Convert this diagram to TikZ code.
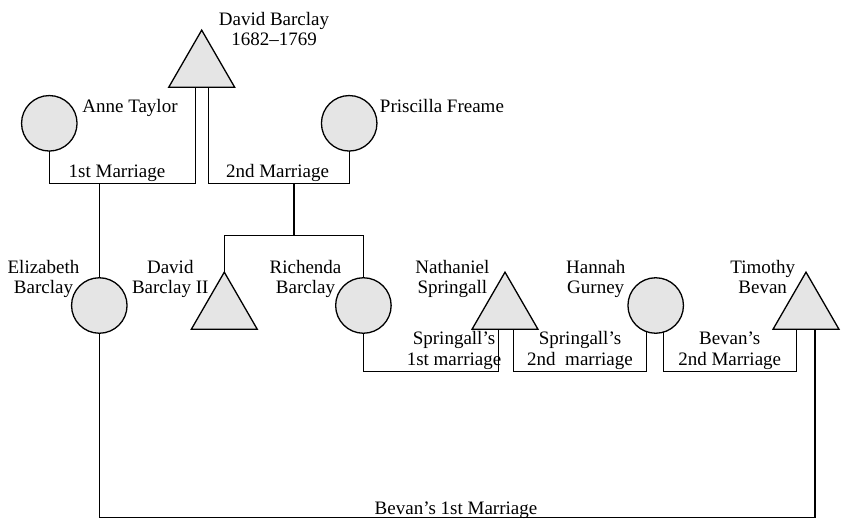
\documentclass[tikz,border=0pt]{standalone}
\usepackage{fontspec}
\setmainfont{Liberation Serif}
\usetikzlibrary{shapes.geometric,calc}
\definecolor{personfill}{RGB}{229,229,229}
\begin{document}
\begin{tikzpicture}[x=1pt,y=-1pt,
  line width=1.3pt,
  female/.style={circle,draw,fill=personfill,minimum size=55.5pt,inner sep=0pt,outer sep=0pt},
  male/.style={regular polygon,regular polygon sides=3,draw,fill=personfill,
    minimum size=76.2pt,inner sep=0pt,outer sep=0pt},
  lbl/.style={font=\fontsize{19}{20.5}\selectfont,align=center,inner sep=0pt,anchor=base}
]
\useasboundingbox (0,0) rectangle (841,519);

% people: circles for women, triangles for men
\node[male]   (db)   at (201.7,68.25) {};
\node[female] (anne) at (49.3,123.3) {};
\node[female] (pris) at (349.2,123.3) {};
\node[female] (eliz) at (99.3,305.5) {};
\node[male]   (db2)  at (224.3,310.25) {};
\node[female] (rich) at (363.4,305.5) {};
\node[male]   (nath) at (505,310.25) {};
\node[female] (hann) at (655.7,305.5) {};
\node[male]   (tim)  at (806,310.25) {};

% names (a two-line node sits on the baseline of its last line)
\node[lbl] (dbl) at (274,45.5) {David Barclay\\1682–1769};
\node[lbl,anchor=base west] (annel) at (81.7,113) {Anne Taylor};
\node[lbl,anchor=base west] (prisl) at (379.3,112) {Priscilla Freame};
\node[lbl] (elizl) at (43.5,293.5) {Elizabeth\\Barclay};
\node[lbl] (db2l)  at (170.3,293.5) {David\\Barclay II};
\node[lbl] (richl) at (305.5,293.5) {Richenda\\Barclay};
\node[lbl] (nathl) at (452.4,293.5) {Nathaniel\\Springall};
\node[lbl] (hannl) at (595.7,293.5) {Hannah\\Gurney};
\node[lbl] (timl)  at (762.7,293.5) {Timothy\\Bevan};

% marriage labels
\node[lbl] (m1l)  at (117,177.5) {1st Marriage};
\node[lbl] (m2l)  at (277.5,177.5) {2nd Marriage};
\node[lbl] (sm1l) at (454,365.2) {Springall’s\\1st marriage};
\node[lbl] (sm2l) at (580,365.2) {Springall’s\\2nd\ \ marriage};
\node[lbl] (bm2l) at (729.7,365.2) {Bevan’s\\2nd Marriage};
\node[lbl] (bm1l) at (456,514) {Bevan’s 1st Marriage};

% points on the marriage bars
\coordinate (m1)   at (122,183.3);
\coordinate (m2)   at (294,183.3);
\coordinate (kids) at (294,235.7);
\coordinate (sm1)  at (430,371.7);
\coordinate (sm2)  at (580,371.7);
\coordinate (bm2)  at (730,371.7);
\coordinate (bm1)  at (456,517.2);

% marriages and descent
\draw (anne.south) |- (m1) -| ($(db.south)+(-6.5,0)$);
\draw (pris.south) |- (m2) -| ($(db.south)+(6.5,0)$);
\draw (eliz.north) -- (eliz.north |- m1);
\draw (m2) -- (kids);
\draw (db2.north) |- (kids) -| (rich.north);
\draw (rich.south) |- (sm1) -| ($(nath.south)+(-6.3,0)$);
\draw ($(nath.south)+(8.3,0)$) |- (sm2) -| (hann.251);
\draw (hann.286) |- (bm2) -| ($(tim.south)+(-9.3,0)$);
\draw (eliz.south) |- (bm1) -| ($(tim.south)+(9,0)$);
\end{tikzpicture}
\end{document}
